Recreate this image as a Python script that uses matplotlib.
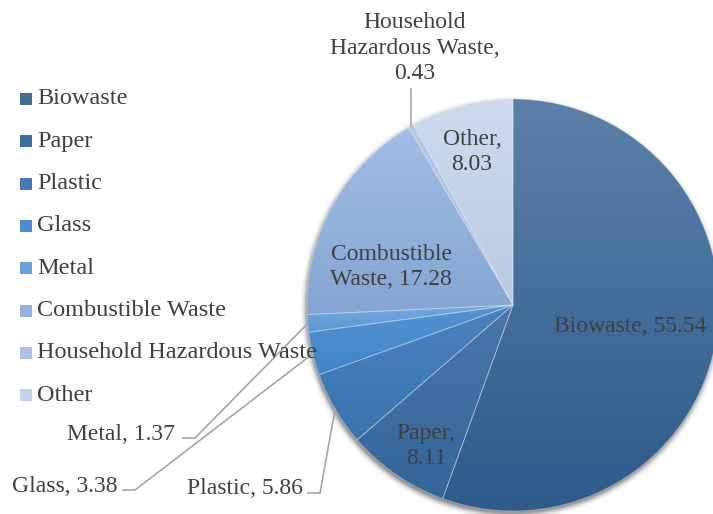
import numpy as np
import matplotlib.pyplot as plt
from matplotlib.colors import to_rgb
from matplotlib.patches import Rectangle

# Склад побутових відходів, %
categories = ['Biowaste', 'Paper', 'Plastic', 'Glass', 'Metal',
              'Combustible Waste', 'Household Hazardous Waste', 'Other']
values = [55.54, 8.11, 5.86, 3.38, 1.37, 17.28, 0.43, 8.03]

# Градієнт кожного сектора: верх -> низ
top_colors = ['#5B80A9', '#4776AA', '#4A82BF', '#5594D3',
              '#74A9E0', '#A2BFE4', '#B5CAE7', '#CEDBEE']
bottom_colors = ['#2D5B8B', '#34669A', '#3873AE', '#3F83C6',
                 '#5E98D4', '#84A5D3', '#A5BCDF', '#B8C9E2']

W, H = 713, 514
TEXT = '#404040'
plt.rcParams['font.family'] = ['Liberation Serif', 'DejaVu Serif']

fig = plt.figure(figsize=(W / 100, H / 100), dpi=100)
ax = fig.add_axes([0, 0, 1, 1])

# Координати в пікселях (y вниз) -> координати осей
def P(x, y):
    return x, H - y

cx, cy = P(513, 305)
r = 206

# Тінь навколо діаграми
n = 300
xs = np.linspace(cx - r - 20, cx + r + 20, n)
ys = np.linspace(cy - r - 20, cy + r + 20, n)
X, Y = np.meshgrid(xs, ys)
d = np.hypot(X - (cx - 1), Y - (cy - 3))
sh = np.zeros((n, n, 4))
sh[..., 3] = np.where(d > r - 2, 0.45 * np.exp(-((d - r + 2) / 4.5) ** 2), 0.45)
ax.imshow(sh, extent=[xs[0], xs[-1], ys[0], ys[-1]], origin='lower',
          zorder=0, interpolation='bilinear')

wedges, _ = ax.pie(values, startangle=90, counterclock=False,
                   center=(cx, cy), radius=r,
                   wedgeprops=dict(edgecolor=(1, 1, 1, 0.3), linewidth=0.7))

# Вертикальний градієнт усередині кожного сектора
for w, c1, c2 in zip(wedges, top_colors, bottom_colors):
    v = w.get_path().vertices
    x0, x1 = v[:, 0].min(), v[:, 0].max()
    y0, y1 = v[:, 1].min(), v[:, 1].max()
    t = np.linspace(0, 1, 256)[:, None]
    grad = (1 - t) * np.array(to_rgb(c1)) + t * np.array(to_rgb(c2))
    grad = np.repeat(grad[:, None, :], 2, axis=1)
    im = ax.imshow(grad, extent=[x0, x1, y0, y1], origin='upper',
                   zorder=1, interpolation='bilinear')
    im.set_clip_path(w)
    w.set_facecolor('none')
    w.set_zorder(2)

# Середні кути секторів (за годинниковою від 12-ї)
cum = np.cumsum(values)
mid = (cum - np.array(values) / 2) / cum[-1] * 2 * np.pi

def edge_point(i):
    return cx + r * np.sin(mid[i]), cy + r * np.cos(mid[i])

fs = 17
ls = 1.3
lab = [f'{c}, {v:.2f}' for c, v in zip(categories, values)]

# Підписи всередині секторів
ax.text(*P(630, 327), lab[0], fontsize=fs, color=TEXT, ha='center', va='center', zorder=5)
ax.text(*P(426, 446), 'Paper,\n8.11', fontsize=fs, color=TEXT, ha='center', va='center',
        linespacing=ls, zorder=5)
ax.text(*P(391, 267), 'Combustible\nWaste, 17.28', fontsize=fs, color=TEXT, ha='center',
        va='center', linespacing=ls, zorder=5)
ax.text(*P(472, 152), 'Other,\n8.03', fontsize=fs, color=TEXT, ha='center', va='center',
        linespacing=ls, zorder=5)

# Винесені підписи з лініями-виносками
lc = '#A6A6A6'
ax.text(*P(415, 48), 'Household\nHazardous Waste,\n0.43', fontsize=fs, color=TEXT,
        ha='center', va='center', linespacing=ls, zorder=5)
ex, ey = edge_point(6)
ax.plot([ex, ex], [ey, P(0, 89)[1]], color=lc, lw=1.2, zorder=4)

outside = [(4, (195, 438), (183, 438), (175, 435)),
           (3, (135, 490), (123, 490), (117, 487)),
           (2, (320, 493), (308, 493), (303, 488))]
for i, (bx, by), (hx, hy), (tx, ty) in outside:
    ex, ey = edge_point(i)
    ax.plot([ex, P(bx, by)[0], P(hx, hy)[0]], [ey, P(bx, by)[1], P(hx, hy)[1]],
            color=lc, lw=1.2, zorder=4, solid_joinstyle='miter')
    ax.text(*P(tx, ty), lab[i], fontsize=fs, color=TEXT, ha='right', va='center', zorder=5)

# Легенда
for k, (name, c1, c2) in enumerate(zip(categories, top_colors, bottom_colors)):
    yc = 99 + k * 42.3
    mix = tuple((np.array(to_rgb(c1)) + np.array(to_rgb(c2))) / 2)
    ax.add_patch(Rectangle(P(20, yc + 6), 12, 12, facecolor=mix, edgecolor='none', zorder=5))
    ax.text(*P(37, yc), name, fontsize=fs + 0.5, color=TEXT, ha='left', va='center', zorder=6)

ax.set_xlim(0, W)
ax.set_ylim(0, H)
ax.set_aspect('auto')
ax.axis('off')

fig.savefig('out.png', dpi=100)
